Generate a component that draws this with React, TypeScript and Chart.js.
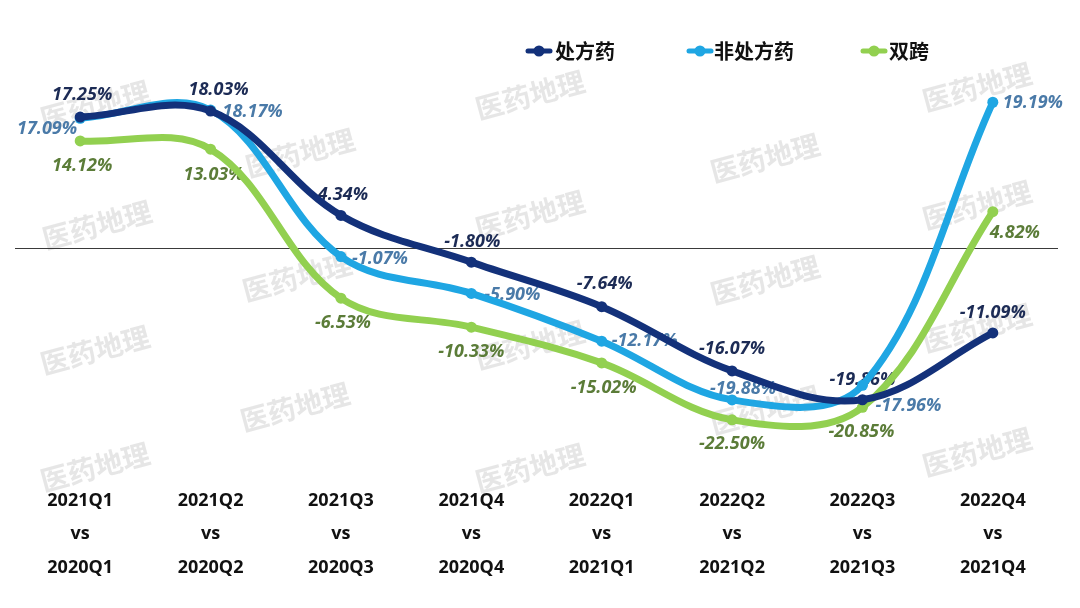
import React, { useEffect, useRef } from "react";
import { Chart, registerables } from "chart.js";

Chart.register(...registerables);

const categories: string[][] = [
  ["2021Q1", "vs", "2020Q1"],
  ["2021Q2", "vs", "2020Q2"],
  ["2021Q3", "vs", "2020Q3"],
  ["2021Q4", "vs", "2020Q4"],
  ["2022Q1", "vs", "2021Q1"],
  ["2022Q2", "vs", "2021Q2"],
  ["2022Q3", "vs", "2021Q3"],
  ["2022Q4", "vs", "2021Q4"],
];

const seriesNames = ["处方药", "非处方药", "双跨"];
const rxValues = [17.25, 18.03, 4.34, -1.8, -7.64, -16.07, -19.86, -11.09];
const otcValues = [17.09, 18.17, -1.07, -5.9, -12.17, -19.88, -17.96, 19.19];
const dualValues = [14.12, 13.03, -6.53, -10.33, -15.02, -22.5, -20.85, 4.82];

const lineColors = ["#13317a", "#1fa6e3", "#92d050"];
const labelColors = ["#1c2b55", "#4a7aa8", "#5b7c38"];

// label placement per series: [dx, dy, align]
const labelPlacement: [number, number, CanvasTextAlign][][] = [
  [[2, -22, "center"], [8, -21, "center"], [2, -21, "center"], [1, -20, "center"], [3, -23, "center"], [0, -22, "center"], [0, -20, "center"], [0, -20, "center"]],
  [[-3, 11, "right"], [12, 2, "left"], [11, 2, "left"], [13, 1, "left"], [10, 0, "left"], [-22, -11, "left"], [13, 21, "left"], [10, 1, "left"]],
  [[2, 25, "center"], [3, 26, "center"], [2, 25, "center"], [0, 25, "center"], [2, 25, "center"], [0, 24, "center"], [-1, 25, "center"], [22, 21, "center"]],
];

const watermarkText = "医药地理";
const watermarkSpots: [number, number][] = [
  [95, 105], [97, 225], [95, 350], [95, 467],
  [300, 153], [297, 277], [295, 407],
  [530, 95], [530, 215], [530, 345], [530, 468],
  [765, 158], [765, 280], [765, 410],
  [977, 87], [977, 205], [977, 328], [977, 452],
];

const decorPlugin = {
  id: "decor",
  beforeDatasetsDraw(chart: any) {
    const ctx = chart.ctx as CanvasRenderingContext2D;
    ctx.save();
    // watermarks
    ctx.font = "bold 28px 'Noto Sans CJK SC'";
    ctx.fillStyle = "rgba(205,205,205,0.5)";
    ctx.textAlign = "center";
    ctx.textBaseline = "middle";
    watermarkSpots.forEach(([x, y]) => {
      ctx.save();
      ctx.translate(x, y);
      ctx.rotate((-15 * Math.PI) / 180);
      ctx.fillText(watermarkText, 0, 0);
      ctx.restore();
    });
    // zero line
    const yScale = chart.scales.y;
    const y0 = Math.round(yScale.getPixelForValue(0)) + 0.5;
    ctx.strokeStyle = "#3a3a3a";
    ctx.lineWidth = 1.2;
    ctx.beginPath();
    ctx.moveTo(chart.chartArea.left, y0);
    ctx.lineTo(chart.chartArea.right, y0);
    ctx.stroke();
    // data labels
    ctx.font = "italic bold 18px 'Open Sans'";
    ctx.textBaseline = "middle";
    chart.data.datasets.forEach((ds: any, di: number) => {
      const meta = chart.getDatasetMeta(di);
      meta.data.forEach((pt: any, i: number) => {
        const v = ds.data[i] as number;
        const [dx, dy, align] = labelPlacement[di][i];
        ctx.fillStyle = labelColors[di];
        ctx.textAlign = align;
        ctx.fillText(v.toFixed(2) + "%", pt.x + dx, pt.y + dy);
      });
    });
    ctx.restore();
  },
  afterDraw(chart: any) {
    const ctx = chart.ctx as CanvasRenderingContext2D;
    ctx.save();
    const items: [number, number][] = [
      [539, 555],
      [700, 714],
      [874, 889],
    ];
    ctx.font = "bold 20px 'Noto Sans CJK SC'";
    ctx.textBaseline = "middle";
    ctx.textAlign = "left";
    items.forEach(([mx, tx], i) => {
      ctx.strokeStyle = lineColors[i];
      ctx.fillStyle = lineColors[i];
      ctx.lineWidth = 5;
      ctx.lineCap = "round";
      ctx.beginPath();
      ctx.moveTo(mx - 11, 51);
      ctx.lineTo(mx + 11, 51);
      ctx.stroke();
      ctx.beginPath();
      ctx.arc(mx, 51, 5.5, 0, Math.PI * 2);
      ctx.fill();
      ctx.fillStyle = "#111111";
      ctx.fillText(seriesNames[i], tx, 51);
    });
    ctx.restore();
  },
};

export default function App() {
  const ref = useRef<HTMLCanvasElement | null>(null);
  useEffect(() => {
    if (!ref.current) return;
    const all = [rxValues, otcValues, dualValues];
    const chart = new Chart(ref.current, {
      type: "line",
      data: {
        labels: categories,
        datasets: all.map((vals, i) => ({
          label: seriesNames[i],
          data: vals,
          borderColor: lineColors[i],
          backgroundColor: lineColors[i],
          borderWidth: 7,
          pointRadius: 5.5,
          pointBorderWidth: 0,
          pointBackgroundColor: lineColors[i],
          tension: 0.36,
          fill: false,
          clip: false as any,
          borderCapStyle: "round" as const,
        })),
      },
      options: {
        responsive: false,
        animation: false,
        layout: { padding: { left: 15, right: 22, top: 58, bottom: 0 } },
        plugins: {
          legend: { display: false },
          tooltip: { enabled: false },
        },
        scales: {
          x: {
            offset: true,
            grid: { display: false, drawTicks: false, tickLength: 0 },
            border: { display: false },
            ticks: {
              padding: 7,
              color: "#111111",
              font: { family: "'Open Sans'", size: 18, weight: "bold", lineHeight: 1.86 },
              maxRotation: 0,
              autoSkip: false,
            },
            afterFit: (s: any) => {
              s.height = 131;
            },
          },
          y: {
            display: false,
            min: -30,
            max: 25,
          },
        },
      },
      plugins: [decorPlugin],
    });
    return () => chart.destroy();
  }, []);
  return (
    <canvas
      ref={ref}
      width={1080}
      height={608}
      style={{ position: "fixed", left: 0, top: 0, display: "block", background: "#ffffff" }}
    />
  );
}
